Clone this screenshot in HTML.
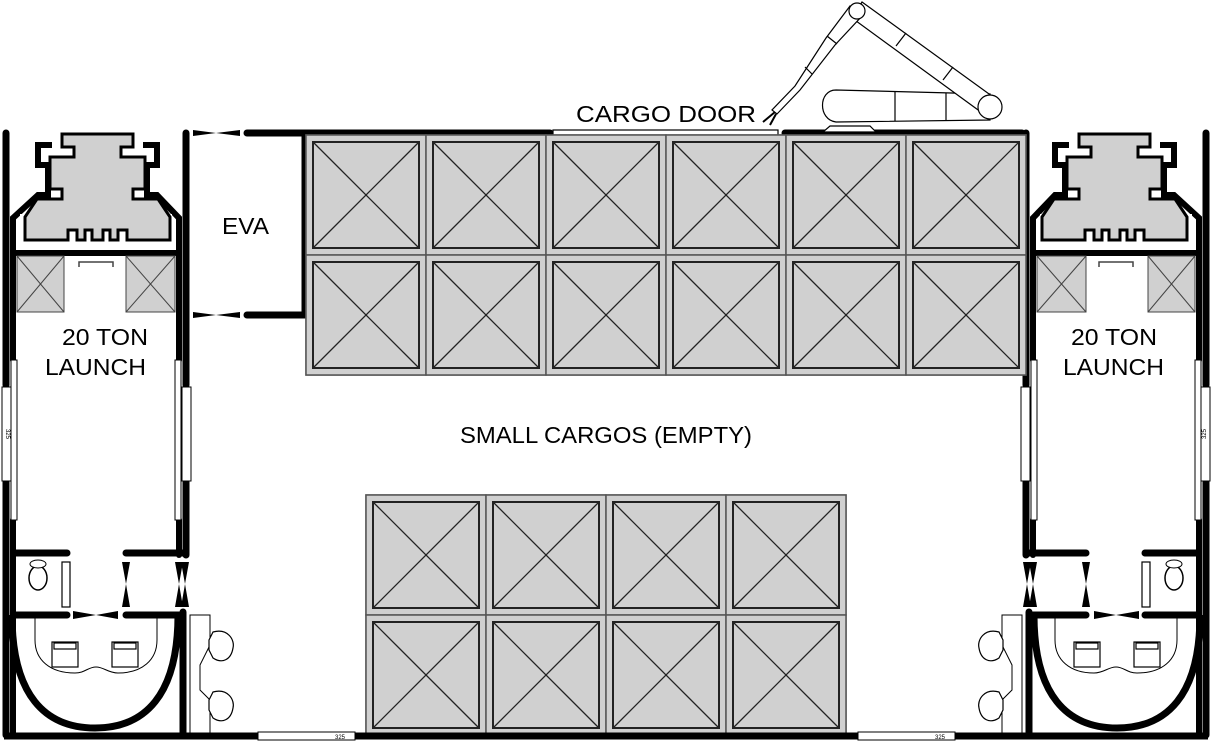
<!DOCTYPE html>
<html><head><meta charset="utf-8"><style>
html,body{margin:0;padding:0;background:#fff;}
svg{display:block;font-family:"Liberation Sans",sans-serif;}
</style></head><body>
<svg width="1212" height="741" viewBox="0 0 1212 741">
<defs>
<g id="module">
  <g stroke="#000" stroke-linecap="round" fill="none">
    <line x1="6" y1="133" x2="6" y2="385" stroke-width="7"/>
    <line x1="6" y1="482" x2="6" y2="735" stroke-width="7"/>
    <line x1="13" y1="253" x2="13" y2="360" stroke-width="6"/>
    <line x1="13" y1="520" x2="13" y2="735" stroke-width="6"/>
    <line x1="186" y1="133" x2="186" y2="385" stroke-width="7"/>
    <line x1="186" y1="482" x2="186" y2="555" stroke-width="7"/>
    <line x1="179" y1="253" x2="179" y2="360" stroke-width="6"/>
    <line x1="179" y1="520" x2="179" y2="555" stroke-width="6"/>
    <line x1="183" y1="612" x2="183" y2="735" stroke-width="7"/>
  </g>
  <rect x="2" y="387" width="9" height="94" fill="#fff" stroke="#000" stroke-width="1"/>
  <rect x="11" y="360" width="6" height="160" fill="#fff" stroke="#000" stroke-width="1"/>
  <rect x="182" y="387" width="9" height="94" fill="#fff" stroke="#000" stroke-width="1"/>
  <rect x="175" y="360" width="6" height="160" fill="#fff" stroke="#000" stroke-width="1"/>
  <path d="M52,145 L38,145 L38,165 L48,165 L48,195 L38,195 L13,218 L13,253 L179,253 L179,218 L157,195 L147,195 L147,165 L157,165 L157,145 L143,145" fill="none" stroke="#000" stroke-width="6" stroke-linejoin="miter"/>
  <rect x="20" y="214" width="152" height="35" fill="#fff"/>
  <path d="M62,134 L133,134 L133,147 L121,147 L121,157 L145,157 L145,189 L133,189 L133,199 L158,199 L170,217 L170,240 L127,240 L127,230 L118,230 L118,240 L110,240 L110,230 L103,230 L103,240 L92,240 L92,230 L85,230 L85,240 L77,240 L77,230 L68,230 L68,240 L25,240 L25,217 L37,199 L62,199 L62,189 L50,189 L50,157 L74,157 L74,147 L62,147 Z" fill="#d0d0d0" stroke="#000" stroke-width="3"/>
  <g fill="#d0d0d0" stroke="#444" stroke-width="1">
    <rect x="17" y="256" width="47" height="56"/>
    <line x1="17" y1="256" x2="64" y2="312"/><line x1="64" y1="256" x2="17" y2="312"/>
    <rect x="126" y="256" width="49" height="56"/>
    <line x1="126" y1="256" x2="175" y2="312"/><line x1="175" y1="256" x2="126" y2="312"/>
  </g>
  <path d="M79,267 L79,262 L113,262 L113,267" fill="none" stroke="#444" stroke-width="1.5"/>
  <g stroke="#000" stroke-width="7" stroke-linecap="round">
    <line x1="15" y1="553" x2="67" y2="553"/>
    <line x1="126" y1="553" x2="183" y2="553"/>
    <line x1="15" y1="615" x2="67" y2="615"/>
    <line x1="126" y1="615" x2="183" y2="615"/>
  </g>
  <path d="M12,615 C12,695 45,728 95,728 C145,728 178,695 178,615" fill="none" stroke="#000" stroke-width="7"/>
  <g fill="#000">
    <path d="M122,562 L126,584 L130,562 Z M122,607 L126,584 L130,607 Z"/>
    <path d="M175,562 L179,584 L183,562 Z M175,607 L179,584 L183,607 Z"/>
    <path d="M181,562 L185,584 L189,562 Z M181,607 L185,584 L189,607 Z"/>
    <path d="M73,611 L96,615 L73,619 Z M118,611 L96,615 L118,619 Z"/>
  </g>
  <ellipse cx="38" cy="578" rx="9" ry="12" fill="#fff" stroke="#000" stroke-width="1.5"/>
  <ellipse cx="38" cy="564" rx="8" ry="4" fill="#fff" stroke="#000" stroke-width="1"/>
  <rect x="62" y="562" width="8" height="45" fill="#fff" stroke="#000" stroke-width="1.2"/>
  <path d="M35,618 L35,640 C35,660 50,673 75,673 C85,673 88,667 96,667 C104,667 108,673 118,673 C142,673 157,660 157,640 L157,618" fill="none" stroke="#000" stroke-width="1"/>
  <g fill="#fff" stroke="#000" stroke-width="1.2">
    <rect x="52" y="642" width="26" height="25"/><rect x="54" y="643" width="22" height="6"/>
    <rect x="112" y="642" width="26" height="25"/><rect x="114" y="643" width="22" height="6"/>
  </g>
  <path d="M190,615 L210,615 L210,645 L200,665 L200,690 L210,700 L210,735 L190,735 Z" fill="#fff" stroke="#000" stroke-width="1"/>
  <path d="M213,632 C228,628 235,640 233,648 C231,660 222,664 213,658 L209,650 L209,640 Z" fill="#fff" stroke="#000" stroke-width="1.2"/>
  <path d="M213,692 C228,688 235,700 233,708 C231,720 222,724 213,718 L209,710 L209,700 Z" fill="#fff" stroke="#000" stroke-width="1.2"/>
</g>
</defs>

<g><use href="#module"/></g>
<g transform="translate(1212,0) scale(-1,1)"><use href="#module"/></g>

<text x="62" y="345" font-size="23" textLength="86" lengthAdjust="spacingAndGlyphs">20 TON</text>
<text x="45" y="375" font-size="23" textLength="101" lengthAdjust="spacingAndGlyphs">LAUNCH</text>
<text x="1071" y="345" font-size="23" textLength="86" lengthAdjust="spacingAndGlyphs">20 TON</text>
<text x="1063" y="375" font-size="23" textLength="101" lengthAdjust="spacingAndGlyphs">LAUNCH</text>
<text x="6" y="434" font-size="6" text-anchor="middle" transform="rotate(90 6 434)">325</text>
<text x="1206" y="434" font-size="6" text-anchor="middle" transform="rotate(-90 1206 434)">325</text>

<g>
  <g stroke="#000" stroke-width="7" stroke-linecap="round" fill="none">
    <path d="M247,133 L550,133"/>
    <path d="M305,133 L305,315 L247,315"/>
    <path d="M785,133 L1022,133"/>
  </g>
  <g fill="#000">
    <path d="M193,130 L216,133 L193,136 Z M240,130 L216,133 L240,136 Z"/>
    <path d="M193,312 L216,315 L193,318 Z M240,312 L216,315 L240,318 Z"/>
  </g>
  <text x="222" y="234" font-size="23" textLength="47" lengthAdjust="spacingAndGlyphs">EVA</text>
</g>

<rect x="553" y="130" width="225" height="6" fill="#fff" stroke="#000" stroke-width="1.2"/>
<text x="576" y="122" font-size="23" textLength="180" lengthAdjust="spacingAndGlyphs">CARGO DOOR</text>

<g fill="#fff" stroke="#000" stroke-width="1.2">
  <path d="M823,132 L830,126 L870,126 L876,132 Z"/>
  <path d="M836,122 C818,120 818,90 836,90 L990,94 L990,120 Z"/>
  <line x1="895" y1="92" x2="895" y2="121"/><line x1="946" y1="93" x2="946" y2="120"/>
  <path d="M862,2 L996,99 L985,115 L852,18 Z"/>
  <line x1="906" y1="33" x2="896" y2="46"/><line x1="953" y1="67" x2="943" y2="80"/>
  <circle cx="990" cy="107" r="12"/>
  <path d="M850,6 L862,16 L835,45 L800,90 L777,114 L772,110 L795,86 L826,38 Z"/>
  <line x1="827" y1="36" x2="837" y2="44"/><line x1="805" y1="67" x2="812" y2="74"/>
  <circle cx="857" cy="11" r="8"/>
  <path d="M775,112 L763,122 M776,114 L770,125" stroke-width="2"/>
</g>

<g id="bigcargo"></g>
<g id="smallcargo"></g>
<text x="460" y="443" font-size="23" textLength="292" lengthAdjust="spacingAndGlyphs">SMALL CARGOS (EMPTY)</text>

<g>
  <line x1="4" y1="736" x2="1208" y2="736" stroke="#000" stroke-width="7"/>
  <rect x="258" y="732" width="97" height="8" fill="#fff" stroke="#000" stroke-width="1"/>
  <rect x="858" y="732" width="97" height="8" fill="#fff" stroke="#000" stroke-width="1"/>
  <text x="340" y="739" font-size="6" text-anchor="middle">325</text>
  <text x="940" y="739" font-size="6" text-anchor="middle">325</text>
</g>

<script>
const bigCols = [0,1,2,3,4,5];
const bigRows = [0,1];
const smallCols = [0,1,2,3];
const smallRows = [0,1];
const NS = 'http://www.w3.org/2000/svg';
function mk(tag, attrs, parent){const e=document.createElementNS(NS,tag);for(const k in attrs)e.setAttribute(k,attrs[k]);parent.appendChild(e);return e;}
function grid(gid, x0, y0, w, h, cols, rows){
  const g=document.getElementById(gid);
  mk('rect',{x:x0,y:y0,width:w*cols.length,height:h*rows.length,fill:'#d0d0d0',stroke:'#555','stroke-width':1.5},g);
  rows.forEach(r=>cols.forEach(c=>{
    const x=x0+c*w, y=y0+r*h;
    const cell=mk('rect',{x:x,y:y,width:w,height:h,fill:'#d0d0d0',stroke:'#555','stroke-width':1.5},g);
    
    
    const i=7;
    mk('rect',{x:x+i,y:y+i,width:w-2*i,height:h-2*i,fill:'none',stroke:'#222','stroke-width':2},g);
    mk('line',{x1:x+i,y1:y+i,x2:x+w-i,y2:y+h-i,stroke:'#222','stroke-width':1.3},g);
    mk('line',{x1:x+w-i,y1:y+i,x2:x+i,y2:y+h-i,stroke:'#222','stroke-width':1.3},g);
  }));
}
grid('bigcargo',306,135,120,120,bigCols,bigRows);
grid('smallcargo',366,495,120,120,smallCols,smallRows);
</script>
</svg>
</body></html>
